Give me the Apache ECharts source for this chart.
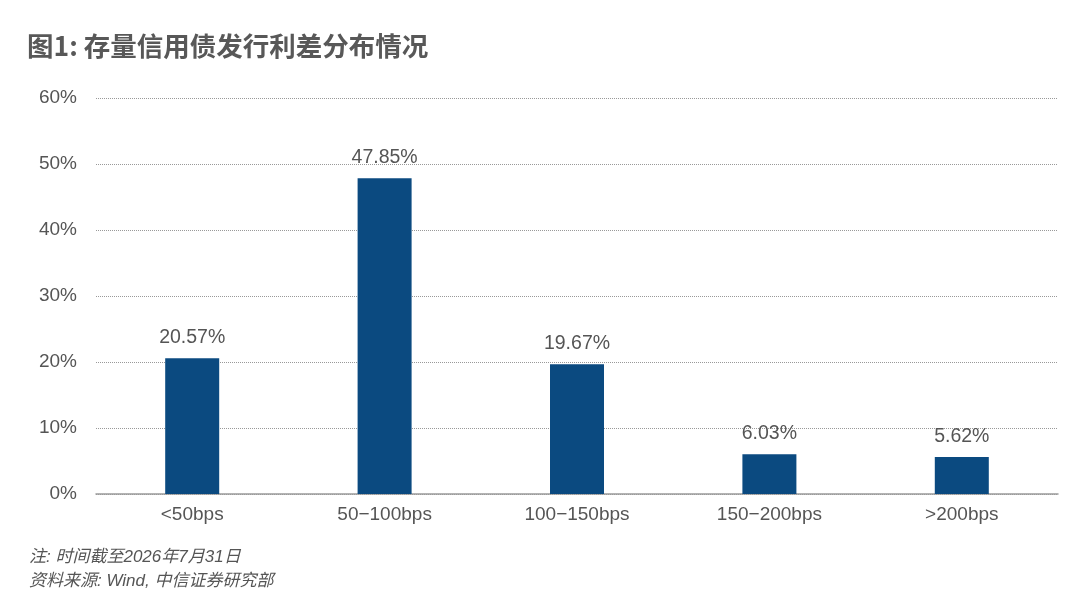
<!DOCTYPE html>
<html>
<head>
<meta charset="utf-8">
<script src="https://cdn.jsdelivr.net/npm/echarts@6/dist/echarts.min.js"></script>
<style>
html, body { margin: 0; padding: 0; background: #fff; }
#main { width: 1080px; height: 615px; }
</style>
</head>
<body>
<div id="main"></div>
<script>
var categories = ['<50bps', '50-100bps', '100-150bps', '150-200bps', '>200bps'];
var values = [20.57, 47.85, 19.67, 6.03, 5.62];
var yTicks = [0, 10, 20, 30, 40, 50, 60];

var chart = echarts.init(document.getElementById('main'));
var textColor = '#555';
var fontFamily = '"Liberation Sans", "Noto Sans CJK SC", sans-serif';

chart.setOption({
    backgroundColor: '#fff',
    animation: false,
    title: [{
        text: '图1: 存量信用债发行利差分布情况',
        left: 22,
        top: 28,
        textStyle: {
            color: '#585858',
            fontSize: 26.5,
            fontWeight: 'bold',
            fontFamily: '"Noto Sans CJK SC", sans-serif'
        }
    }, {
        text: '注: 时间截至2026年7月31日\n资料来源: Wind, 中信证券研究部',
        left: 24,
        top: 540,
        textStyle: {
            color: '#555',
            fontSize: 17,
            fontWeight: 'normal',
            fontStyle: 'italic',
            lineHeight: 24,
            fontFamily: fontFamily
        }
    }],
    grid: {
        left: 96,
        right: 22,
        top: 98,
        bottom: 121,
        containLabel: false
    },
    xAxis: {
        type: 'category',
        data: categories,
        axisLine: { lineStyle: { color: '#9a9a9a', width: 1.5 } },
        axisTick: { show: false },
        axisLabel: {
            color: textColor,
            fontSize: 19,
            margin: 11,
            fontFamily: fontFamily,
            formatter: function (v) { return v.replace('-', '−'); }
        }
    },
    yAxis: {
        type: 'value',
        min: yTicks[0],
        max: yTicks[yTicks.length - 1],
        interval: 10,
        axisLine: { show: false },
        axisTick: { show: false },
        axisLabel: {
            color: textColor,
            fontSize: 19,
            margin: 19,
            fontFamily: fontFamily,
            formatter: '{value}%'
        },
        splitLine: { lineStyle: { color: '#999', type: [1, 1], width: 1 } }
    },
    series: [{
        type: 'bar',
        data: values,
        barWidth: 54,
        itemStyle: { color: '#0b4a80' },
        label: {
            show: true,
            position: 'top',
            distance: 11,
            color: textColor,
            fontSize: 19.5,
            fontFamily: fontFamily,
            formatter: function (p) { return p.value.toFixed(2) + '%'; }
        }
    }]
});
</script>
</body>
</html>
